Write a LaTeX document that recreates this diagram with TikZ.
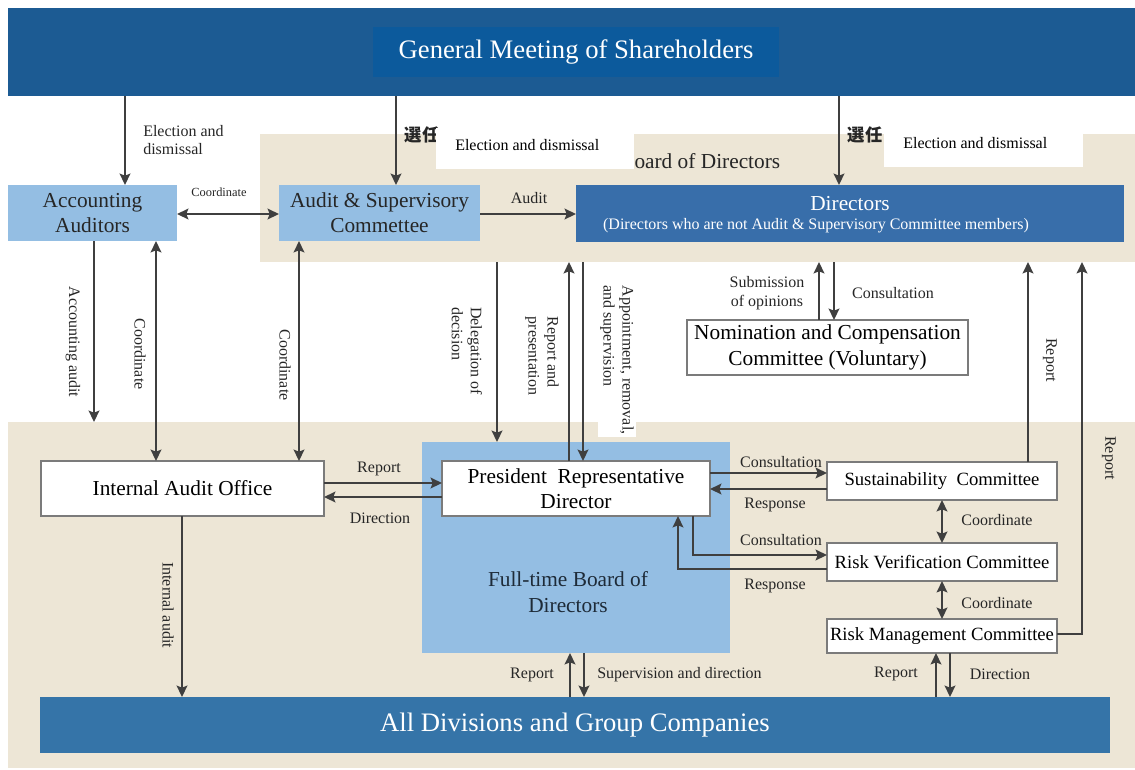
\documentclass[tikz,border=0pt]{standalone}
\usepackage{fontspec}
\setmainfont{Liberation Serif}
\newfontfamily\cjkfont{Noto Sans CJK JP}
\usetikzlibrary{arrows.meta}
\definecolor{bandblue}{HTML}{1C5B93}
\definecolor{gmsblue}{HTML}{0C5A9C}
\definecolor{lightblue}{HTML}{94BEE3}
\definecolor{dirblue}{HTML}{386EAA}
\definecolor{alldivblue}{HTML}{3574A8}
\definecolor{beige}{HTML}{EDE6D6}
\definecolor{arrowc}{HTML}{3F3F3F}
\definecolor{bordc}{HTML}{7B7B7B}
\definecolor{labc}{HTML}{262626}
\definecolor{ftc}{HTML}{1E2B38}
\begin{document}
\begin{tikzpicture}[x=0.75pt,y=-0.75pt,
  >={Stealth[length=8.5pt,width=8pt,inset=1.5pt]},
  rbox/.style={anchor=north west, inner sep=0pt, outer sep=0pt, align=center},
  wbox/.style={rbox, fill=white, draw=bordc, line width=0.9pt},
  bigtxt/.style={font=\fontsize{16}{19}\selectfont},
  comtxt/.style={font=\fontsize{14}{17}\selectfont},
  lbl/.style={font=\fontsize{12}{14.25}\selectfont, text=labc, inner sep=0pt},
  arr/.style={->, draw=arrowc, line width=1.5pt},
  darr/.style={<->, draw=arrowc, line width=1.5pt}]
\useasboundingbox (0,0) rectangle (1135,769);
% backgrounds
\node[rbox, fill=bandblue, minimum width=845.25pt, minimum height=66pt] (band) at (8,8) {};
\node[rbox, fill=gmsblue, minimum width=304.5pt, minimum height=37.5pt, text=white,
      font=\fontsize{20}{24}\selectfont] (gms) at (373,27) {General Meeting of Shareholders};
\node[rbox, fill=beige, minimum width=656.25pt, minimum height=96pt] (board) at (260,134) {};
\node[rbox, fill=beige, minimum width=845.25pt, minimum height=259.5pt] (exec) at (8,422) {};
% board title and election labels
\node[anchor=west, inner sep=0pt, font=\fontsize{16}{19}\selectfont, text=labc] (boardt) at (620,161) {Board of Directors};
\node[inner sep=0pt, text=labc, font=\cjkfont\fontsize{13}{15}\selectfont\bfseries] (sen1) at (422,135) {選任};
\node[inner sep=0pt, text=labc, font=\cjkfont\fontsize{13}{15}\selectfont\bfseries] (sen2) at (865,135) {選任};
\node[rbox, fill=white, minimum width=148.5pt, minimum height=30.75pt] (eb1) at (436,128) {};
\node[lbl, anchor=west, text=black] (ed1) at (455,145) {Election and dismissal};
\node[rbox, fill=white, minimum width=149.25pt, minimum height=29.25pt] (eb2) at (884,128) {};
\node[lbl, anchor=west, text=black] (ed2) at (903,143) {Election and dismissal};
% top boxes
\node[rbox, fill=lightblue, minimum width=126.75pt, minimum height=42pt, bigtxt, text=labc] (acc) at (8,185) {Accounting\\Auditors};
\node[rbox, fill=lightblue, minimum width=150.75pt, minimum height=42pt, bigtxt, text=labc] (aud) at (279,185) {Audit \& Supervisory\\Commettee};
\node[rbox, fill=dirblue, minimum width=411pt, minimum height=42.75pt] (dir) at (576,185) {};
\node[text=white, inner sep=0pt, bigtxt] (dirt) at (850,204) {Directors};
\node[text=white, inner sep=0pt, font=\fontsize{12}{14}\selectfont] (dirs) at (816,226) {(Directors who are not Audit \& Supervisory Committee members)};
\node[wbox, minimum width=210.75pt, minimum height=41.25pt, bigtxt] (nom) at (687,320) {Nomination and Compensation\\Committee (Voluntary)};
% bottom boxes
\node[rbox, fill=lightblue, minimum width=231pt, minimum height=158.25pt] (ft) at (422,442) {};
\node[inner sep=0pt, align=center, bigtxt, text=ftc] (ftt) at (568,592) {Full-time Board of\\Directors};
\node[wbox, minimum width=212.25pt, minimum height=41.25pt, bigtxt] (iao) at (41,461) {Internal Audit Office};
\node[wbox, minimum width=201pt, minimum height=41.25pt, bigtxt] (pres) at (442,461) {President\ \ Representative\\Director};
\node[wbox, minimum width=172.5pt, minimum height=28.5pt, comtxt] (sust) at (827,462) {Sustainability\ \ Committee};
\node[wbox, minimum width=172.5pt, minimum height=28.5pt, comtxt] (rv) at (827,543) {Risk Verification\ Committee};
\node[wbox, minimum width=172.5pt, minimum height=25.5pt, comtxt] (rm) at (827,619) {Risk Management Committee};
\node[rbox, fill=alldivblue, minimum width=802.5pt, minimum height=42pt, text=white,
      font=\fontsize{20}{24}\selectfont] (ad) at (40,697) {All Divisions and Group Companies};
% connectors from the General Meeting
\draw[arr] (125,0 |- band.south) -- (125,0 |- acc.north);
\draw[arr] (396,0 |- band.south) -- (396,0 |- aud.north);
\draw[arr] (839,0 |- band.south) -- (839,0 |- dir.north);
% top row
\draw[darr] (acc.east |- 0,214) -- (aud.west |- 0,214);
\draw[arr] (aud.east |- 0,214) -- (dir.west |- 0,214);
% left verticals
\draw[arr] (94,0 |- acc.south) -- (94,0 |- exec.north);
\draw[darr] (156,0 |- acc.south) -- (156,0 |- iao.north);
\draw[darr] (299,0 |- aud.south) -- (299,0 |- iao.north);
% middle verticals
\draw[arr] (497,0 |- board.south) -- (497,0 |- ft.north);
\draw[arr] (569,0 |- pres.north) -- (569,0 |- board.south);
\draw[arr] (583,0 |- board.south) -- (583,0 |- pres.north);
\draw[arr] (819,0 |- nom.north) -- (819,0 |- board.south);
\draw[arr] (834,0 |- board.south) -- (834,0 |- nom.north);
% internal audit office <-> president
\draw[arr] (iao.east |- 0,483) -- (pres.west |- 0,483);
\draw[arr] (pres.west |- 0,497) -- (iao.east |- 0,497);
% president <-> committees
\draw[arr] (pres.east |- 0,473) -- (sust.west |- 0,473);
\draw[arr] (sust.west |- 0,489) -- (pres.east |- 0,489);
\draw[arr] (693,0 |- pres.south) -- (693,555) -- (rv.west |- 0,555);
\draw[arr] (rv.west |- 0,569) -- (678,569) -- (678,0 |- pres.south);
\draw[darr] (942,0 |- sust.south) -- (942,0 |- rv.north);
\draw[darr] (942,0 |- rv.south) -- (942,0 |- rm.north);
% reports to the board
\draw[arr] (1028,0 |- sust.north) -- (1028,0 |- board.south);
\draw[arr] (rm.east |- 0,634) -- (1082,634) -- (1082,0 |- board.south);
% to all divisions
\draw[arr] (182,0 |- iao.south) -- (182,0 |- ad.north);
\draw[arr] (570,0 |- ad.north) -- (570,0 |- ft.south);
\draw[arr] (584,0 |- ft.south) -- (584,0 |- ad.north);
\draw[arr] (936,0 |- ad.north) -- (936,0 |- rm.south);
\draw[arr] (950,0 |- rm.south) -- (950,0 |- ad.north);
% labels
\node[lbl, align=left, anchor=west, font=\fontsize{12}{13}\selectfont] (l1) at (143,140) {Election and\\dismissal};
\node[lbl, font=\fontsize{9.3}{11}\selectfont] (l2) at (219,192) {Coordinate};
\node[lbl] (l3) at (529,198) {Audit};
\node[lbl, rotate=-90] (l4) at (73,342) {Accounting audit};
\node[lbl, rotate=-90] (l5) at (140,354) {Coordinate};
\node[lbl, rotate=-90] (l6) at (285,365) {Coordinate};
\node[lbl, rotate=-90, align=left] (l7) at (467,351) {Delegation of\\decision};
\node[lbl, rotate=-90, align=left] (l8) at (542,356) {Report and\\presentation};
\node[lbl, rotate=-90, align=left, fill=white, inner sep=2pt] (l9) at (617,360) {Appointment, removal,\\and supervision};
\node[lbl, align=center] (l10) at (767,293) {Submission\\of opinions};
\node[lbl] (l11) at (893,293) {Consultation};
\node[lbl, rotate=-90] (l12) at (1050,360) {Report};
\node[lbl, rotate=-90] (l13) at (1109,458) {Report};
\node[lbl] (l14) at (379,469) {Report};
\node[lbl] (l15) at (380,518) {Direction};
\node[lbl] (l16) at (781,462) {Consultation};
\node[lbl] (l17) at (775,505) {Response};
\node[lbl] (l18) at (781,540) {Consultation};
\node[lbl] (l19) at (775,586) {Response};
\node[lbl] (l20) at (997,520) {Coordinate};
\node[lbl] (l21) at (997,603) {Coordinate};
\node[lbl, rotate=-90] (l22) at (168,605) {Internal audit};
\node[lbl] (l23) at (532,675) {Report};
\node[lbl, anchor=west] (l24) at (597,675) {Supervision and direction};
\node[lbl] (l25) at (896,674) {Report};
\node[lbl] (l26) at (1000,674) {Direction};
\end{tikzpicture}
\end{document}
